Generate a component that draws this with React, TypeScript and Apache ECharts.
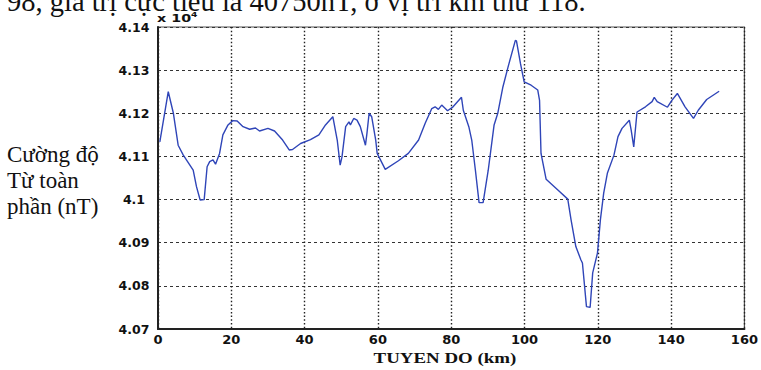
import React, { useEffect, useRef } from "react";
import * as echarts from "echarts";

// Distance along the survey line (km)
const distanceKm = [
  0.5, 2.8, 4.2, 5.5, 6.9, 9.6, 10.5, 11.5, 12.6, 13.4, 14.1, 15.0, 15.7, 16.8, 17.7, 19.1,
  20.4, 21.6, 23.2, 25.0, 26.6, 27.7, 30.0, 31.8, 34.0, 35.8, 36.7, 38.9, 41.6, 43.9, 45.7,
  47.7, 48.9, 49.7, 50.2, 51.2, 52.1, 52.5, 53.4, 54.3, 55.2, 56.6, 57.0, 57.6, 58.3, 59.4,
  59.8, 62.0, 65.6, 68.3, 71.1, 72.9, 74.7, 75.6, 76.5, 77.4, 79.0, 80.5, 82.8, 83.3, 84.8,
  85.6, 86.6, 87.6, 88.7, 90.1, 91.7, 92.7, 94.1, 95.5, 97.5, 97.8, 98.9, 99.9, 101.8, 103.6,
  104.1, 104.5, 105.9, 109.1, 111.8, 112.7, 114.0, 115.4, 115.8, 116.9, 117.9, 118.6, 119.9,
  120.7, 121.6, 122.6, 124.4, 125.5, 126.6, 128.6, 129.1, 129.8, 130.7, 133.0, 134.8, 135.4,
  136.2, 139.0, 140.2, 141.7, 143.8, 146.1, 147.4, 149.7, 153.1,
];

// Total magnetic field intensity (nT)
const totalField = [
  41134, 41250, 41200, 41126, 41103, 41068, 41030, 40999, 41000, 41076, 41088, 41092, 41082,
  41107, 41150, 41173, 41183, 41182, 41169, 41163, 41166, 41159, 41165, 41159, 41138, 41115,
  41116, 41130, 41139, 41150, 41173, 41192, 41138, 41080, 41099, 41169, 41180, 41173, 41188,
  41184, 41169, 41126, 41153, 41200, 41192, 41138, 41107, 41070, 41090, 41107, 41138, 41177,
  41211, 41215, 41209, 41219, 41206, 41215, 41237, 41207, 41169, 41138, 41068, 40993, 40993,
  41068, 41173, 41200, 41261, 41307, 41369, 41368, 41315, 41273, 41265, 41254, 41230, 41107,
  41047, 41022, 41001, 40953, 40891, 40860, 40853, 40752, 40750, 40830, 40876, 40953, 41015,
  41061, 41103, 41146, 41165, 41184, 41161, 41122, 41203, 41215, 41227, 41237, 41227, 41214,
  41230, 41246, 41215, 41188, 41207, 41232, 41251,
];

const xTicks = { min: 0, max: 160, interval: 20 };
const yTicks = { min: 40700, max: 41400, interval: 100 };

const captionText = "98, giá trị cực tiểu là 40750nT, ở vị trí km thứ 118.";
const yTitleLines = ["Cường độ", "Từ toàn", "phần (nT)"];
const xTitle = "TUYEN DO (km)";

const tickFont = "DejaVu Sans";
const serifFont = "Liberation Serif";

export default function App() {
  const ref = useRef<HTMLDivElement>(null);

  useEffect(() => {
    if (!ref.current) return;
    const chart = echarts.init(ref.current, undefined, { renderer: "svg" });
    const points = distanceKm.map((d, i) => [d, totalField[i]]);

    chart.setOption({
      animation: false,
      backgroundColor: "#ffffff",
      grid: {
        left: 158,
        right: 13,
        top: 27,
        bottom: 41,
        show: true,
        borderColor: "#555",
        borderWidth: 1.2,
        backgroundColor: "transparent",
      },
      xAxis: {
        type: "value",
        min: xTicks.min,
        max: xTicks.max,
        interval: xTicks.interval,
        axisLine: { show: true, onZero: false, lineStyle: { color: "#222", width: 2 } },
        axisTick: { show: false },
        axisLabel: {
          color: "#111",
          fontFamily: tickFont,
          fontWeight: "bold",
          fontSize: 13,
          margin: 4,
        },
        splitLine: {
          show: true,
          lineStyle: { color: "#222", width: 1.4, type: [1.5, 2.2] },
        },
      },
      yAxis: {
        type: "value",
        min: yTicks.min,
        max: yTicks.max,
        interval: yTicks.interval,
        axisLine: { show: true, onZero: false, lineStyle: { color: "#222", width: 2 } },
        axisTick: { show: false },
        axisLabel: {
          color: "#111",
          fontFamily: tickFont,
          fontWeight: "bold",
          fontSize: 12.5,
          margin: 24,
          align: "center",
          formatter: (v: number) => String(Number((v / 10000).toFixed(2))),
        },
        splitLine: {
          show: true,
          lineStyle: { color: "#333", width: 1, type: [3, 3] },
        },
      },
      series: [
        {
          type: "line",
          data: points,
          showSymbol: false,
          lineStyle: { color: "#2f45b8", width: 1.4 },
          z: 5,
        },
      ],
      graphic: [
        {
          type: "text",
          left: 7,
          top: -13,
          style: {
            text: captionText,
            font: `28.5px "${serifFont}"`,
            fill: "#111",
          },
        },
        {
          type: "text",
          left: 7,
          top: 141,
          style: {
            text: yTitleLines.join("\n"),
            font: `23px "${serifFont}"`,
            lineHeight: 26,
            fill: "#111",
          },
        },
        {
          type: "text",
          x: 157,
          y: 18,
          scaleX: 1.3,
          style: {
            text: "{b|x 10}{s|4}",
            verticalAlign: "middle",
            rich: {
              b: { font: `bold 11px "${tickFont}"`, fill: "#111" },
              s: { font: `bold 7px "${tickFont}"`, fill: "#111", padding: [0, 0, 7, 0] },
            },
          },
        },
        {
          type: "text",
          x: 445,
          y: 358,
          scaleX: 1.35,
          style: {
            text: xTitle,
            font: `bold 14px "${serifFont}"`,
            fill: "#111",
            align: "center",
            verticalAlign: "middle",
          },
        },
      ],
    });

    return () => chart.dispose();
  }, []);

  return (
    <div
      ref={ref}
      style={{ position: "fixed", left: 0, top: 0, width: 761, height: 370, background: "#fff" }}
    />
  );
}
